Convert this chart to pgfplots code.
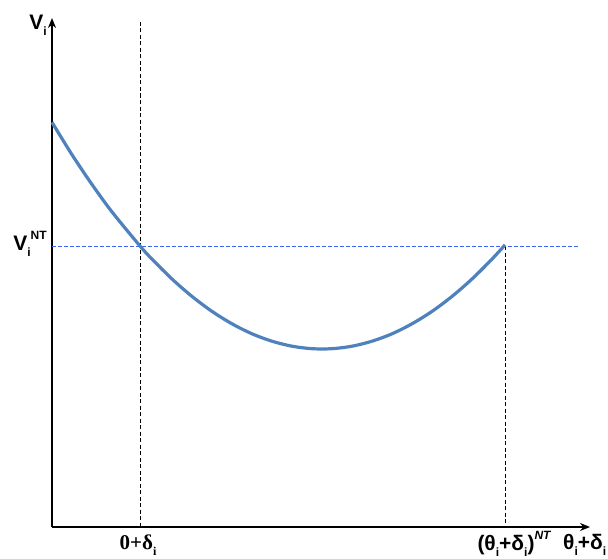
\documentclass[border=0pt]{standalone}
\usepackage{fontspec}
\setmainfont{Liberation Sans}
\newfontfamily\serifb{Liberation Serif}
\usepackage{pgfplots}
\pgfplotsset{compat=1.18}
\usetikzlibrary{arrows.meta}
\newcommand\sub[1]{\raisebox{-0.28em}{\fontsize{12}{12}\selectfont #1}}
\newcommand\sups[1]{\raisebox{0.55em}{\fontsize{12}{12}\selectfont #1}}
\definecolor{curve}{RGB}{79,129,189}
\definecolor{hblue}{RGB}{60,100,240}
\tikzset{lbl/.style={font=\fontsize{21}{24}\selectfont\bfseries, inner sep=0pt}}
\begin{document}
\begin{tikzpicture}
\useasboundingbox (-52pt,-31pt) rectangle (556pt,527pt);
\begin{axis}[x=1pt,y=1pt,xmin=0,xmax=538,ymin=0,ymax=509,
  axis lines=left, ticks=none, clip=false,
  axis line style={line width=1.8pt,-{Stealth[length=10pt,width=8pt]}}]
\addplot[black, line width=0.9pt, dash pattern=on 4pt off 2.5pt] coordinates {(88,505) (88,0)};
\addplot[black, line width=0.9pt, dash pattern=on 4pt off 2.5pt] coordinates {(453,281) (453,0)};
\addplot[hblue, line width=0.9pt, dash pattern=on 4pt off 2pt] coordinates {(0,281) (526,281)};
\addplot[curve, line width=3.2pt, smooth] coordinates {
(0,404.7) (20,372.3) (40,342.5) (60,315.1) (88,281) (100,267.9) (120,248)
(140,230.6) (160,215.6) (180,203.2) (200,193.2) (220,185.8) (240,180.8)
(260,178.3) (280,178.3) (300,180.8) (320,185.8) (340,193.2) (360,203.2)
(380,215.6) (400,230.6) (420,248) (440,267.9) (453,282.1)};
\node[lbl] at (axis cs:-14,502) {V\sub{i}};
\node[lbl] at (axis cs:-22,283) {V\sub{i}\sups{NT}};
\node[lbl] at (axis cs:86,-18) {\serifb\bfseries 0+δ\sub{i}};
\node[lbl] at (axis cs:462,-17) {(θ\sub{i}+δ\sub{i})\sups{\itshape NT}};
\node[lbl,anchor=west] at (axis cs:511,-18) {θ\sub{i}+δ\sub{i}};
\end{axis}
\end{tikzpicture}
\end{document}
